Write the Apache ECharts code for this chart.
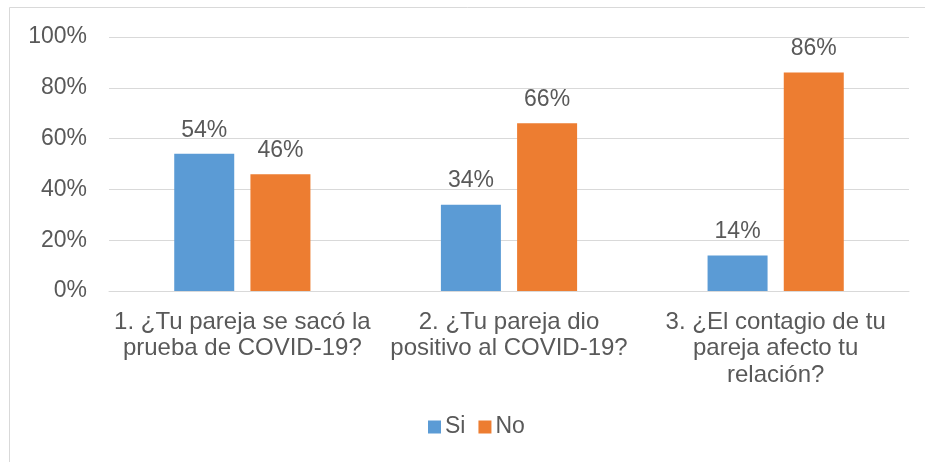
<!DOCTYPE html>
<html>
<head>
<meta charset="utf-8">
<script src="https://cdn.jsdelivr.net/npm/echarts@6/dist/echarts.min.js"></script>
<style>
html,body{margin:0;padding:0;background:#fff;}
#chart{width:925px;height:462px;}
</style>
</head>
<body>
<div id="chart"></div>
<script>
const categories = [
  "1. ¿Tu pareja se sacó la\nprueba de COVID-19?",
  "2. ¿Tu pareja dio\npositivo al COVID-19?",
  "3. ¿El contagio de tu\npareja afecto tu\nrelación?"
];
const seriesNames = ["Si", "No"];
const si = [54, 34, 14];
const no = [46, 66, 86];
const yTicks = [0, 20, 40, 60, 80, 100];

const FONT = '"Liberation Sans", Arial, sans-serif';
const TXT = '#595959';
const chart = echarts.init(document.getElementById('chart'), null, {renderer: 'canvas'});

const labelCfg = {
  show: true,
  position: 'top',
  distance: 12,
  color: TXT,
  fontSize: 23,
  fontFamily: FONT,
  formatter: p => p.value + '%'
};

chart.setOption({
  animation: false,
  backgroundColor: '#fff',
  color: ['#5B9BD5', '#ED7D31'],
  textStyle: {fontFamily: FONT},
  graphic: [{
    type: 'rect',
    shape: {x: 9.5, y: 7.5, width: 960, height: 500},
    style: {fill: 'none', stroke: '#D9D9D9', lineWidth: 1},
    silent: true
  }],
  grid: {left: 109, right: 16, top: 37, bottom: 171, containLabel: false},
  legend: {
    data: seriesNames,
    left: 428,
    top: 414,
    padding: 0,
    itemWidth: 13,
    itemHeight: 13,
    itemGap: 13,
    icon: 'rect',
    textStyle: {color: TXT, fontSize: 23, fontFamily: FONT, lineHeight: 26, padding: [0, 0, 0, -1]}
  },
  xAxis: {
    type: 'category',
    data: categories,
    axisLine: {show: true, lineStyle: {color: '#D9D9D9', width: 1}},
    axisTick: {show: false},
    axisLabel: {
      interval: 0,
      margin: 18,
      color: TXT,
      fontSize: 24,
      fontFamily: FONT,
      lineHeight: 26.5,
      align: 'center'
    }
  },
  yAxis: {
    type: 'value',
    min: yTicks[0],
    max: yTicks[yTicks.length - 1],
    interval: 20,
    axisLine: {show: false},
    axisTick: {show: false},
    splitLine: {show: true, lineStyle: {color: '#D9D9D9', width: 1}},
    axisLabel: {
      margin: 22,
      color: TXT,
      fontSize: 23,
      fontFamily: FONT,
      formatter: v => v + '%'
    }
  },
  series: [
    {
      name: seriesNames[0],
      type: 'bar',
      data: si,
      barWidth: 60,
      barGap: '27%',
      itemStyle: {color: '#5B9BD5'},
      label: labelCfg
    },
    {
      name: seriesNames[1],
      type: 'bar',
      data: no,
      barWidth: 60,
      barGap: '27%',
      itemStyle: {color: '#ED7D31'},
      label: labelCfg
    }
  ]
});
</script>
</body>
</html>
